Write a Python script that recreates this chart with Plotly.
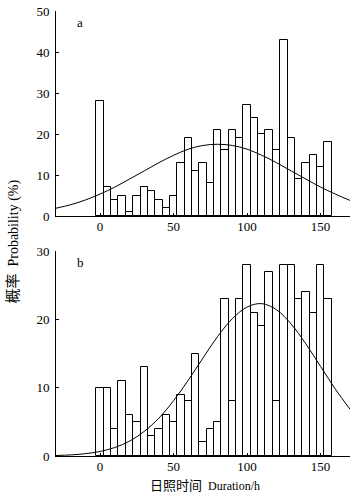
import plotly.graph_objects as go

# Bin centres (hours), 5-h bins
bin_centres = [0, 5, 10, 15, 20, 25, 30, 35, 40, 45, 50, 55, 60, 65, 70, 75,
               80, 85, 90, 95, 100, 105, 110, 115, 120, 125, 130, 135, 140, 145, 150, 155]

# Panel a probabilities (%)
prob_a = [28, 7, 4, 5, 1, 5, 7, 6, 4, 2, 5, 13, 19, 11, 13, 8,
          21, 16, 21, 19, 27, 24, 20, 21, 16, 43, 19, 9, 13, 15, 12, 18]

# Panel b probabilities (%)
prob_b = [10, 10, 4, 11, 6, 5, 13, 3, 4, 6, 5, 9, 8, 15, 2, 4,
          5, 23, 8, 23, 28, 21, 19, 27, 8, 28, 28, 23, 24, 21, 28, 23]

# Fitted curves
curve_x = [-30, -20, -10, 0, 10, 20, 30, 40, 50, 60, 70, 80, 90, 100,
           110, 120, 130, 140, 150, 160, 170]
curve_a = [1.9, 2.75, 3.9, 5.35, 7.05, 9.0, 11.0, 13.0, 14.8, 16.3, 17.2, 17.5, 17.2, 16.3,
           14.8, 13.0, 11.0, 9.0, 7.05, 5.35, 3.8]
curve_b = [0.07, 0.16, 0.34, 0.67, 1.24, 2.17, 3.6, 5.55, 8.1, 11.1, 14.35, 17.5, 20.1, 21.8,
           22.3, 21.4, 19.3, 16.4, 13.1, 9.8, 6.85]

x_ticks = [0, 50, 100, 150]
y_ticks_a = [0, 10, 20, 30, 40, 50]
y_ticks_b = [0, 10, 20, 30]

serif = "Liberation Serif, Times New Roman, Noto Sans CJK SC, serif"

fig = go.Figure()

bar_style = dict(marker=dict(color="white", line=dict(color="black", width=1)), width=5)

fig.add_trace(go.Bar(x=bin_centres, y=prob_a, xaxis="x", yaxis="y", **bar_style))
fig.add_trace(go.Scatter(x=curve_x, y=curve_a, mode="lines", xaxis="x", yaxis="y",
                         line=dict(color="black", width=1, shape="spline")))
fig.add_trace(go.Bar(x=bin_centres, y=prob_b, xaxis="x2", yaxis="y2", **bar_style))
fig.add_trace(go.Scatter(x=curve_x, y=curve_b, mode="lines", xaxis="x2", yaxis="y2",
                         line=dict(color="black", width=1, shape="spline")))

common_x = dict(range=[-30, 170], tickvals=x_ticks, ticks="inside", ticklen=3,
                tickcolor="black", showline=True, linecolor="black", linewidth=1,
                showgrid=False, zeroline=False, automargin=False,
                tickfont=dict(family=serif, size=13, color="black"),
                ticklabelstandoff=-2)
common_y = dict(ticks="inside", ticklen=3, tickcolor="black", showline=True,
                linecolor="black", linewidth=1, showgrid=False, zeroline=False,
                automargin=False,
                tickfont=dict(family=serif, size=13, color="black"), ticklabelstandoff=3)

fig.update_layout(
    width=364, height=497,
    margin=dict(l=56, r=14, t=11, b=41, autoexpand=False),
    paper_bgcolor="white", plot_bgcolor="white",
    showlegend=False, bargap=0,
    xaxis=dict(domain=[0, 1], anchor="y", **common_x),
    yaxis=dict(domain=[240 / 445, 1], anchor="x", range=[0, 50], tickvals=y_ticks_a, **common_y),
    xaxis2=dict(domain=[0, 1], anchor="y2", **common_x),
    yaxis2=dict(domain=[0, 205 / 445], anchor="x2", range=[0, 30], tickvals=y_ticks_b, **common_y),
    annotations=[
        dict(text="a", x=-13.6, y=47.2, xref="x", yref="y", showarrow=False,
             font=dict(family=serif, size=13, color="black")),
        dict(text="b", x=-13.6, y=28.3, xref="x2", yref="y2", showarrow=False,
             font=dict(family=serif, size=13, color="black")),
        dict(text="<span style='font-size:15px'>概率</span>&nbsp;&nbsp;Probability (%)",
             textangle=-90, x=-0.146, y=0.482,
             xref="paper", yref="paper", showarrow=False, xanchor="center", yanchor="middle",
             font=dict(family=serif, size=14, color="black")),
        dict(text="<span style='font-size:13px'>日照时间</span>&nbsp;&nbsp;Duration/h",
             x=0.507, y=-0.067, xref="paper", yref="paper",
             showarrow=False, xanchor="center", yanchor="middle",
             font=dict(family=serif, size=12, color="black")),
    ],
)

fig.write_html("out.html", config={"displayModeBar": False},
               post_script="document.body.style.margin='0px';")
